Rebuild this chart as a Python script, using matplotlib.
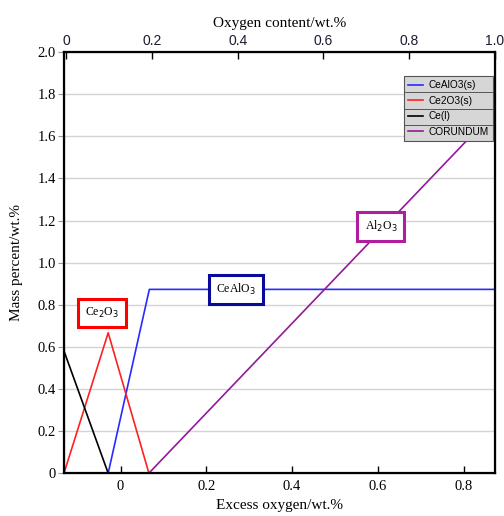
import matplotlib.pyplot as plt
from matplotlib.lines import Line2D

# phase amounts vs excess oxygen (wt.%)
ce_x = [-0.132, -0.029, 0.873]
ce_y = [0.58, 0.0, 0.0]
ce2o3_x = [-0.132, -0.029, 0.066, 0.873]
ce2o3_y = [0.0, 0.667, 0.0, 0.0]
cealo3_x = [-0.132, -0.029, 0.067, 0.873]
cealo3_y = [0.0, 0.0, 0.873, 0.873]
corundum_x = [-0.132, 0.066, 0.873]
corundum_y = [0.0, 0.0, 1.72]

x_ticks = [0, 0.2, 0.4, 0.6, 0.8]
x_ticklabels = ['0', '0.2', '0.4', '0.6', '0.8']
y_ticks = [0, 0.2, 0.4, 0.6, 0.8, 1.0, 1.2, 1.4, 1.6, 1.8, 2.0]
y_ticklabels = ['0', '0.2', '0.4', '0.6', '0.8', '1.0', '1.2', '1.4', '1.6', '1.8', '2.0']
top_ticks = [0, 0.2, 0.4, 0.6, 0.8, 1.0]
top_ticklabels = ['0', '0.2', '0.4', '0.6', '0.8', '1.0']

serif = 'Liberation Serif'
sans = 'Liberation Sans'

fig = plt.figure(figsize=(5.04, 5.16), dpi=100)
ax = fig.add_axes([0.127, 0.083, 0.855, 0.816])

ax.set_xlim(-0.132, 0.873)
ax.set_ylim(0, 2.0)

for y in y_ticks[1:-1]:
    ax.axhline(y, color='#d4d4d4', lw=1.0, zorder=0)

ax.plot(cealo3_x, cealo3_y, color='#2a2aff', lw=1.2, label='CeAlO3(s)')
ax.plot(ce2o3_x, ce2o3_y, color='#ff2020', lw=1.2, label='Ce2O3(s)')
ax.plot(ce_x, ce_y, color='black', lw=1.2, label='Ce(l)')
ax.plot(corundum_x, corundum_y, color='#921a9a', lw=1.2, label='CORUNDUM')

# phase name boxes
def tag(x, y, text, color):
    ax.text(x, y, text, fontsize=8.5, family=serif, ha='center', va='center',
            bbox=dict(boxstyle='square,pad=0.6', fc='white', ec=color, lw=2.2),
            zorder=5)

tag(-0.044, 0.76, 'Ce$_2$O$_3$', '#ff0000')
tag(0.269, 0.874, 'CeAlO$_3$', '#0a0a9a')
tag(0.607, 1.173, 'Al$_2$O$_3$', '#b01ea0')

ax.set_xticks(x_ticks)
ax.set_xticklabels(x_ticklabels, family=serif, fontsize=10.5)
ax.set_yticks(y_ticks)
ax.set_yticklabels(y_ticklabels, family=serif, fontsize=10.5)
ax.tick_params(axis='x', direction='in', length=5, width=1, pad=5)
ax.tick_params(axis='y', direction='out', length=4, width=0.8, color='#999999', pad=2)
ax.set_xlabel('Excess oxygen/wt.%', family=serif, fontsize=11, labelpad=4)
ax.set_ylabel('Mass percent/wt.%', family=serif, fontsize=11, labelpad=10)

for side in ['left', 'right', 'top', 'bottom']:
    ax.spines[side].set_linewidth(1.6)

top = ax.twiny()
top.set_xlim(-0.005, 1.0)
top.set_xticks(top_ticks)
top.set_xticklabels(top_ticklabels, family=sans, fontsize=10, color='#1c1c30')
top.tick_params(axis='x', direction='in', length=5, width=1, pad=3)
top.set_xlabel('Oxygen content/wt.%', family=serif, fontsize=11, labelpad=5)

handles = [Line2D([], [], color=l.get_color(), lw=1.2) for l in ax.get_lines()[-4:]]
labels = [l.get_label() for l in ax.get_lines()[-4:]]
leg = ax.legend(handles, labels, loc='upper right', bbox_to_anchor=(0.995, 0.943),
                prop={'family': sans, 'size': 7.3}, frameon=True, fancybox=False,
                facecolor='#d6d6d6', edgecolor='#555555', framealpha=1,
                handlelength=1.5, handletextpad=0.5, labelspacing=0.55,
                borderpad=0.4, borderaxespad=0)
leg.get_frame().set_linewidth(0.8)

# row separators inside the legend box
fig.canvas.draw()
bb = leg.get_window_extent().transformed(ax.transAxes.inverted())
for i in range(1, 4):
    yy = bb.y1 - (bb.y1 - bb.y0) * i / 4
    ax.plot([bb.x0, bb.x1], [yy, yy], transform=ax.transAxes, color='#555555',
            lw=0.7, zorder=10, clip_on=False)

fig.savefig('out.png', dpi=100)
